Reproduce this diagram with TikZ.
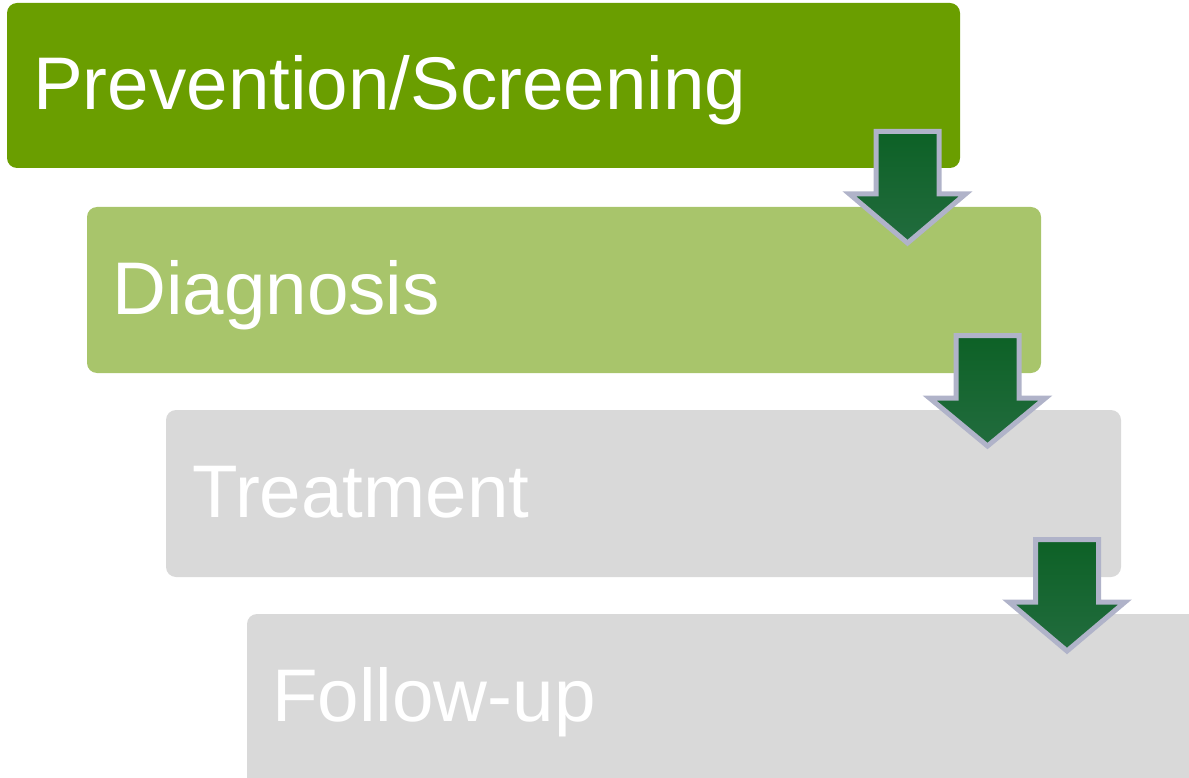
\documentclass[tikz,border=0pt]{standalone}
\usepackage{fontspec}
\setmainfont{Liberation Sans}
\definecolor{gA}{HTML}{6A9E00}
\definecolor{gB}{HTML}{A8C56B}
\definecolor{gC}{HTML}{D9D9D9}
\definecolor{arFt}{HTML}{0D6126}
\definecolor{arFb}{HTML}{226C3E}
\definecolor{arB}{HTML}{B0B3C9}
\begin{document}
\begin{tikzpicture}[x=1pt,y=-1pt,
  stagebox/.style={rounded corners=10pt},
  stagetext/.style={anchor=base west,text=white,font=\fontsize{74.6}{78}\selectfont,inner sep=0pt},
  downarrow/.style={draw=arB,line width=5pt,line join=miter,top color=arFt,bottom color=arFb}]
\clip (0,0) rectangle (1189,778);
\useasboundingbox (0,0) rectangle (1189,778);
% boxes
\fill[gA,stagebox] (7,3) rectangle (960,168);
\fill[gB,stagebox] (87,207) rectangle (1041,373);
\fill[gC,stagebox] (166,410) rectangle (1121,577);
\fill[gC,stagebox] (247,614) rectangle (1215,800);
\node[stagetext] (s1) at (33,110) {Prevention/Screening};
\node[stagetext] (s2) at (112,314) {Diagnosis};
\node[stagetext] (s3) at (192,517) {Treatment};
\node[stagetext] (s4) at (272,721) {Follow-up};
% arrows
\foreach \cx/\ty/\hy/\tip in {907.5/131.5/194/243, 987.5/335.5/398/446, 1067/539.5/602/651}{
  \path[downarrow] (\cx-31.5,\ty) -- (\cx+31.5,\ty) -- (\cx+31.5,\hy) -- (\cx+58,\hy)
    -- (\cx,\tip) -- (\cx-58,\hy) -- (\cx-31.5,\hy) -- cycle;
}
\end{tikzpicture}
\end{document}
